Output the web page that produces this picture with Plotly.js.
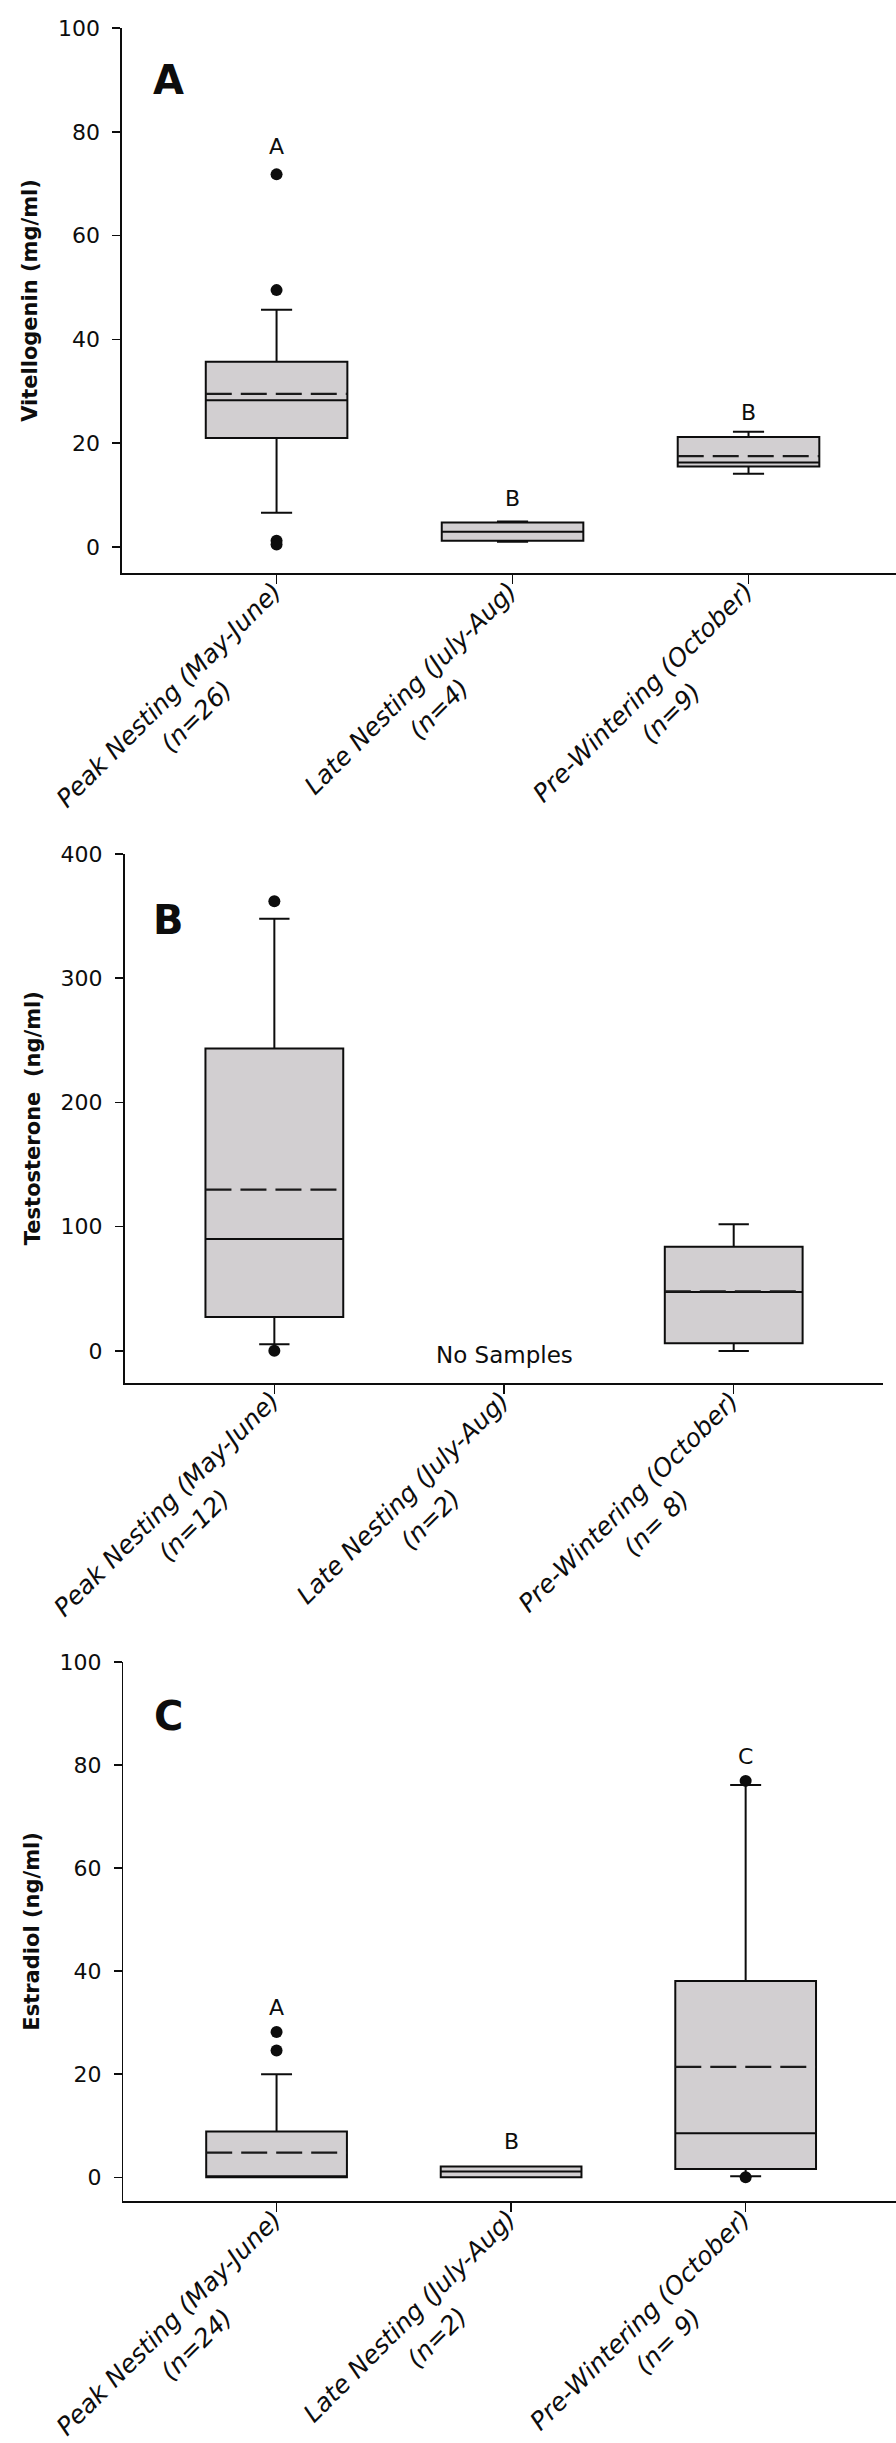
<!DOCTYPE html>
<html>
<head>
<meta charset="utf-8">
<script src="https://cdn.plot.ly/plotly-3.0.1.min.js"></script>
<style>html,body{margin:0;padding:0;background:#ffffff;}</style>
</head>
<body>
<div id="chart" style="width:896px;height:2443px;"></div>
<script>
// ---------- data ----------
const periods = ["Peak Nesting (May-June)", "Late Nesting (July-Aug)", "Pre-Wintering (October)"];
const positions = [0, 1, 2];

// Panel A: Vitellogenin (mg/ml)
const vtgN = ["(n=26)", "(n=4)", "(n=9)"];
const vtgLower = [6.6, 1.0, 14.1];
const vtgQ1 = [21.0, 1.2, 15.5];
const vtgMedian = [28.3, 2.95, 16.3];
const vtgQ3 = [35.7, 4.75, 21.2];
const vtgUpper = [45.7, 4.9, 22.2];
const vtgMean = [29.5, null, 17.5];
const vtgOutlierPos = [0, 0, 0, 0];
const vtgOutliers = [71.8, 49.5, 1.2, 0.5];
const vtgLetters = ["A", "B", "B"];
const vtgLetterY = [77.1, 9.3, 26.0];

// Panel B: Testosterone (ng/ml)  (no samples for Late Nesting)
const tN = ["(n=12)", "(n=2)", "(n= 8)"];
const tLower = [5.5, null, 0];
const tQ1 = [27.3, null, 6.3];
const tMedian = [90.2, null, 47.4];
const tQ3 = [243.4, null, 83.9];
const tUpper = [347.7, null, 102];
const tMean = [129.9, null, 48.0];
const tOutlierPos = [0, 0];
const tOutliers = [361.8, 0.3];

// Panel C: Estradiol (ng/ml)
const e2N = ["(n=24)", "(n=2)", "(n= 9)"];
const e2Lower = [0, 0, 0.2];
const e2Q1 = [0, 0, 1.6];
const e2Median = [0.1, 1.1, 8.55];
const e2Q3 = [8.9, 2.1, 38.1];
const e2Upper = [20.0, 2.1, 76.1];
const e2Mean = [4.8, null, 21.4];
const e2OutlierPos = [0, 0, 2, 2];
const e2Outliers = [24.6, 28.2, 76.9, 0.0];
const e2Letters = ["A", "B", "C"];
const e2LetterY = [33.0, 6.9, 81.6];

// ---------- styling ----------
const FONT = "DejaVu Sans, Arial, sans-serif";
const INK = "#0d0d0d";
const FILL = "rgb(210,207,209)";
const BOXW = 0.6;
const CAT_SIZE = 25;

// text width helper for placing the rotated category labels
const ctx = document.createElement("canvas").getContext("2d");
ctx.font = "italic " + CAT_SIZE + "px 'DejaVu Sans'";
function textLen(s) { return ctx.measureText(s).width; }

const panels = [
  {sx: "", lower: vtgLower, q1: vtgQ1, med: vtgMedian, q3: vtgQ3, upper: vtgUpper, mean: vtgMean,
   outPos: vtgOutlierPos, out: vtgOutliers, n: vtgN, letters: vtgLetters, letterY: vtgLetterY,
   tag: "A", tagY: 90},
  {sx: "2", lower: tLower, q1: tQ1, med: tMedian, q3: tQ3, upper: tUpper, mean: tMean,
   outPos: tOutlierPos, out: tOutliers, n: tN, letters: null, letterY: null,
   tag: "B", tagY: 347},
  {sx: "3", lower: e2Lower, q1: e2Q1, med: e2Median, q3: e2Q3, upper: e2Upper, mean: e2Mean,
   outPos: e2OutlierPos, out: e2Outliers, n: e2N, letters: e2Letters, letterY: e2LetterY,
   tag: "C", tagY: 89.5}
];

const traces = [];
const annotations = [];

panels.forEach(function(p) {
  const xa = "x" + p.sx, ya = "y" + p.sx;
  const idx = positions.filter(function(i){ return p.q1[i] !== null; });
  traces.push({
    type: "box", xaxis: xa, yaxis: ya,
    x: idx,
    q1: idx.map(i => p.q1[i]),
    median: idx.map(i => p.med[i]),
    q3: idx.map(i => p.q3[i]),
    lowerfence: idx.map(i => p.lower[i]),
    upperfence: idx.map(i => p.upper[i]),
    width: BOXW, whiskerwidth: 0.22,
    fillcolor: FILL, line: {color: INK, width: 2},
    boxpoints: false, hoverinfo: "skip"
  });
  // mean lines (dashed)
  const mx = [], my = [];
  positions.forEach(function(i) {
    if (p.mean[i] !== null) {
      mx.push(i - BOXW / 2, i + BOXW / 2, null);
      my.push(p.mean[i], p.mean[i], null);
    }
  });
  traces.push({
    type: "scatter", mode: "lines", xaxis: xa, yaxis: ya, x: mx, y: my,
    line: {color: "#1a1a1a", width: 2.3, dash: "26px,9px"}, hoverinfo: "skip"
  });
  // outliers
  traces.push({
    type: "scatter", mode: "markers", xaxis: xa, yaxis: ya,
    x: p.outPos, y: p.out,
    marker: {color: INK, size: 12, line: {width: 0}}, hoverinfo: "skip"
  });
  // category labels: line 1 ends at the tick, line 2 centred beneath it
  positions.forEach(function(i) {
    const L = textLen(periods[i]);
    const dx1 = -0.3 - 0.3536 * L, dy1 = 14 + 0.3536 * L;
    const dx2 = dx1 + 28, dy2 = dy1 + 21;
    const common = {
      xref: xa, x: i, yref: ya + " domain", y: 0,
      xanchor: "center", yanchor: "middle",
      textangle: -45, showarrow: false,
      font: {family: FONT, size: CAT_SIZE, color: INK, style: "italic"}
    };
    annotations.push(Object.assign({}, common, {text: periods[i], xshift: dx1, yshift: -dy1}));
    annotations.push(Object.assign({}, common, {text: p.n[i], xshift: dx2, yshift: -dy2}));
  });
  // significance letters
  if (p.letters) {
    positions.forEach(function(i) {
      annotations.push({
        text: p.letters[i], xref: xa, x: i, yref: ya, y: p.letterY[i],
        showarrow: false, xanchor: "center", yanchor: "middle",
        font: {family: FONT, size: 22, color: INK}
      });
    });
  }
  // panel tag
  annotations.push({
    text: "<b>" + p.tag + "</b>", xref: "paper", x: 168 / 896, yref: ya, y: p.tagY,
    showarrow: false, xanchor: "center", yanchor: "middle",
    font: {family: FONT, size: 40, color: INK}
  });
});

annotations.push({
  text: "No Samples", xref: "x2", x: 1, yref: "y2", y: -3,
  showarrow: false, xanchor: "center", yanchor: "middle",
  font: {family: FONT, size: 23, color: INK}
});

function yAxis(domain, range, dtick, title) {
  return {
    domain: domain, range: range, tick0: 0, dtick: dtick,
    showline: true, linecolor: INK, linewidth: 1.6,
    ticks: "outside", ticklen: 8, tickwidth: 1.5, tickcolor: INK,
    ticklabelstandoff: 8,
    tickfont: {family: FONT, size: 22, color: INK},
    showgrid: false, zeroline: false, fixedrange: true,
    title: {text: title, standoff: 14, font: {family: FONT, size: 21, color: INK, weight: "bold"}}
  };
}
function xAxis(domain, range, anchor) {
  return {
    domain: domain, range: range, anchor: anchor,
    tickvals: positions, showticklabels: false,
    showline: true, linecolor: INK, linewidth: 2.4,
    ticks: "outside", ticklen: 9, tickwidth: 1.5, tickcolor: INK,
    showgrid: false, zeroline: false, fixedrange: true
  };
}

const H = 2443;
const layout = {
  width: 896, height: H,
  margin: {l: 0, r: 0, t: 0, b: 0},
  paper_bgcolor: "#ffffff", plot_bgcolor: "#ffffff",
  showlegend: false,
  xaxis: xAxis([122 / 896, 1], [-0.655, 2.625], "y"),
  yaxis: yAxis([1 - 573 / H, 1 - 28 / H], [-5, 100], 20, "Vitellogenin (mg/ml)"),
  xaxis2: xAxis([124.6 / 896, 883 / 896], [-0.652, 2.65], "y2"),
  yaxis2: yAxis([1 - 1382.5 / H, 1 - 853.8 / H], [-25.3, 400], 100, "Testosterone  (ng/ml)"),
  xaxis3: xAxis([123.4 / 896, 1], [-0.653, 2.641], "y3"),
  yaxis3: yAxis([1 - 2201 / H, 1 - 1661.8 / H], [-4.6, 100], 20, "Estradiol (ng/ml)"),
  annotations: annotations
};
layout.yaxis.anchor = "x";
layout.yaxis2.anchor = "x2";
layout.yaxis3.anchor = "x3";

Plotly.newPlot("chart", traces, layout, {staticPlot: true, displayModeBar: false});
</script>
</body>
</html>
